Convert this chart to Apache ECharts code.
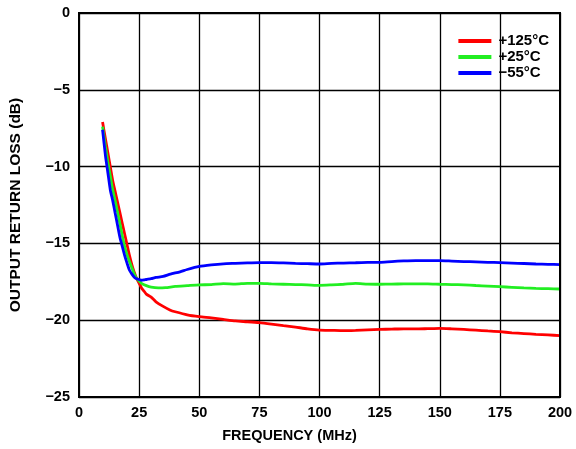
<!DOCTYPE html>
<html><head><meta charset="utf-8">
<script src="https://cdn.jsdelivr.net/npm/echarts@6/dist/echarts.min.js"></script>
<style>html,body{margin:0;padding:0;background:#fff}#c{width:576px;height:449px}</style>
</head><body><div id="c"></div>
<script>
const freqRed = [9.8,11,12,13,14,15,16,17,18,19,20,21,22,23,24,25,26,27,28,30,32,35,38,40,45,50,55,60,65,70,75,80,85,90,95,100,105,110,115,120,125,130,135,140,145,150,155,160,165,170,175,180,185,190,195,200];
const red = [-7.1,-8.2,-9.1,-10.0,-10.9,-11.6,-12.3,-13.0,-13.7,-14.4,-15.1,-15.8,-16.4,-16.9,-17.3,-17.6,-17.9,-18.1,-18.3,-18.5,-18.8,-19.1,-19.35,-19.45,-19.65,-19.77,-19.85,-19.95,-20.05,-20.1,-20.16,-20.25,-20.35,-20.45,-20.56,-20.64,-20.66,-20.68,-20.66,-20.63,-20.6,-20.58,-20.56,-20.57,-20.55,-20.53,-20.56,-20.6,-20.65,-20.7,-20.75,-20.82,-20.87,-20.92,-20.96,-21.0];
const freqGreen = [9.8,11,12,13,14,15,16,17,18,19,20,21,22,23,24,25,26,28,30,33,36,40,45,50,55,60,65,70,75,80,85,90,95,100,105,110,115,120,125,130,135,140,145,150,155,160,165,170,175,180,185,190,195,200];
const green = [-7.4,-8.7,-9.7,-10.6,-11.5,-12.2,-12.95,-13.7,-14.5,-15.2,-15.75,-16.2,-16.6,-17.0,-17.3,-17.45,-17.6,-17.75,-17.85,-17.9,-17.88,-17.8,-17.75,-17.7,-17.68,-17.62,-17.65,-17.6,-17.6,-17.64,-17.66,-17.68,-17.7,-17.73,-17.7,-17.66,-17.6,-17.65,-17.66,-17.65,-17.64,-17.64,-17.63,-17.66,-17.68,-17.7,-17.74,-17.78,-17.82,-17.86,-17.9,-17.93,-17.95,-17.97];
const freqBlue = [9.8,11,12,13,14,15,16,17,18,19,20,21,22,23,24,25,26,27,28,30,32,35,38,42,45,50,55,60,65,70,75,80,85,90,95,100,105,110,115,120,125,130,135,140,145,150,155,160,165,170,175,180,185,190,195,200];
const blue = [-7.6,-9.3,-10.4,-11.5,-12.2,-13.0,-13.8,-14.6,-15.2,-15.8,-16.3,-16.75,-17.0,-17.2,-17.3,-17.35,-17.4,-17.38,-17.35,-17.3,-17.22,-17.15,-17.0,-16.85,-16.7,-16.5,-16.4,-16.33,-16.3,-16.27,-16.25,-16.25,-16.27,-16.3,-16.32,-16.34,-16.3,-16.28,-16.26,-16.24,-16.23,-16.18,-16.14,-16.12,-16.12,-16.12,-16.15,-16.18,-16.2,-16.23,-16.25,-16.28,-16.31,-16.34,-16.36,-16.38];
const seriesNames = ['+125°C','+25°C','\u221255°C'];
const xTicks = {min:0,max:200,interval:25};
const yTicks = {min:-25,max:0,interval:5};

const pair = (xs, ys) => xs.map((x,i)=>[x, ys[i]]);
const font = 'Liberation Sans, Arial, sans-serif';
const chart = echarts.init(document.getElementById('c'));
const mk = (name, xs, ys, color) => ({
  name, type:'line', data: pair(xs, ys), showSymbol:false, smooth:0.2,
  lineStyle:{color, width:2.8}, itemStyle:{color}, z:3
});
chart.setOption({
  animation:false,
  backgroundColor:'#fff',
  grid:{left:79,right:16,top:13,bottom:52},
  legend:{
    top:28, right:22, orient:'vertical', itemGap:0,
    icon:'rect', itemWidth:33, itemHeight:4,
    textStyle:{fontFamily:font, fontWeight:'bold', fontSize:15, lineHeight:16, color:'#000', padding:[0,0,0,2]},
    data: seriesNames
  },
  xAxis:{
    type:'value', min:xTicks.min, max:xTicks.max, interval:xTicks.interval,
    name:'FREQUENCY (MHz)', nameLocation:'middle', nameGap:31,
    nameTextStyle:{fontFamily:font, fontWeight:'bold', fontSize:14.5, color:'#000', padding:[0,60,0,0]},
    axisLine:{onZero:false, lineStyle:{color:'#000', width:2}},
    axisTick:{show:false},
    axisLabel:{fontFamily:font, fontWeight:'bold', fontSize:14.5, color:'#000', margin:8},
    splitLine:{show:true, lineStyle:{color:'#000', width:1.3}}
  },
  yAxis:{
    type:'value', min:yTicks.min, max:yTicks.max, interval:yTicks.interval,
    name:'OUTPUT RETURN LOSS (dB)', nameLocation:'middle', nameGap:55, nameRotate:90,
    nameTextStyle:{fontFamily:font, fontWeight:'bold', fontSize:15.5, color:'#000'},
    axisLine:{show:true, lineStyle:{color:'#000', width:2}},
    axisTick:{show:false},
    axisLabel:{fontFamily:font, fontWeight:'bold', fontSize:14.5, color:'#000', margin:9,
      formatter: v => v < 0 ? '\u2212' + Math.abs(v) : String(v)},
    splitLine:{show:true, lineStyle:{color:'#000', width:1.3}}
  },
  series:[
    mk(seriesNames[0], freqRed, red, '#ff0000'),
    mk(seriesNames[1], freqGreen, green, '#22ee22'),
    mk(seriesNames[2], freqBlue, blue, '#0000ff')
  ]
});
chart.setOption({graphic:[{type:'rect', shape:{x:79,y:13,width:481,height:384}, style:{fill:'none', stroke:'#000', lineWidth:2}, z:10, silent:true}]});
</script></body></html>
